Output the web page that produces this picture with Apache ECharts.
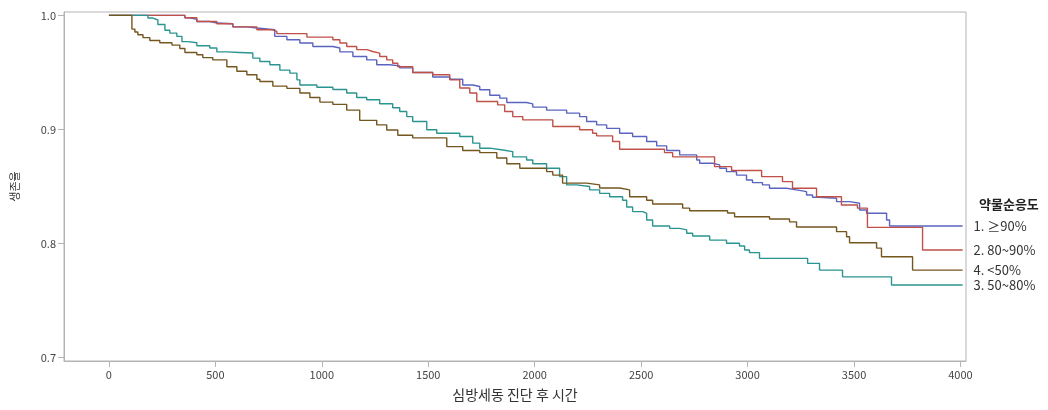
<!DOCTYPE html>
<html>
<head>
<meta charset="utf-8">
<script src="https://cdn.jsdelivr.net/npm/echarts@6/dist/echarts.min.js"></script>
<style>html,body{margin:0;padding:0;background:#fff}#c{width:1048px;height:410px}</style>
</head>
<body>
<div id="c"></div>
<script>
const seriesNames = ['1. ≥90%', '2. 80~90%', '3. 50~80%', '4. <50%'];
const xTicks = [0, 500, 1000, 1500, 2000, 2500, 3000, 3500, 4000];
const yTicks = [0.7, 0.8, 0.9, 1.0];
const legendTitle = '약물순응도';
const xName = '심방세동 진단 후 시간';
const yName = '생존율';

const timeGe90 = [0,357,380,413,474,507,582,648,695,779,836,897,958,1052,1085,1146,1211,1258,1319,1366,1427,1521,1601,1662,1709,1742,1789,1836,1869,1962,1991,2056,2150,2211,2244,2291,2338,2399,2460,2526,2573,2620,2681,2761,2775,2836,2869,2901,2948,2995,3023,3070,3103,3183,3230,3277,3305,3338,3418,3479,3526,3559,3653,3667,4010];
const survGe90 = [1.0,0.998,0.9965,0.9947,0.9933,0.9927,0.990,0.989,0.9874,0.9816,0.9787,0.9758,0.9728,0.9714,0.968,0.964,0.961,0.9567,0.9558,0.954,0.950,0.946,0.944,0.939,0.9377,0.9348,0.930,0.9275,0.9236,0.9225,0.9196,0.917,0.9143,0.9113,0.907,0.904,0.901,0.8967,0.8938,0.8894,0.8856,0.8815,0.8777,0.8733,0.8704,0.8689,0.866,0.863,0.860,0.8557,0.8534,0.8514,0.8485,0.847,0.8455,0.8426,0.8406,0.8397,0.8367,0.8353,0.8294,0.8265,0.8206,0.8154,0.8154];

const time8090 = [0,357,413,507,582,695,770,789,930,1052,1085,1117,1164,1211,1239,1272,1305,1333,1357,1427,1521,1601,1648,1695,1728,1826,1859,1897,1944,2085,2211,2272,2291,2366,2399,2610,2648,2845,2925,3066,3164,3211,3324,3441,3516,3563,3822,4010];
const surv8090 = [1.0,0.998,0.9947,0.9927,0.990,0.9874,0.986,0.984,0.981,0.9787,0.9758,0.9728,0.970,0.9684,0.967,0.964,0.961,0.958,0.955,0.950,0.948,0.9435,0.9363,0.932,0.9245,0.9216,0.9157,0.9113,0.9084,0.9026,0.8997,0.8967,0.8944,0.8894,0.8827,0.8797,0.876,0.8674,0.864,0.8587,0.8543,0.8485,0.841,0.8338,0.831,0.8142,0.7943,0.7943];

const time5080 = [0,183,207,230,263,286,319,343,371,413,474,507,554,615,676,709,756,803,850,883,897,977,1052,1117,1164,1211,1272,1333,1366,1399,1427,1493,1540,1648,1709,1742,1789,1850,1897,1962,1991,2056,2117,2150,2197,2258,2305,2352,2413,2432,2460,2507,2526,2554,2634,2681,2714,2742,2822,2901,2962,2986,3009,3056,3282,3338,3446,3676,4010];
const surv5080 = [1.0,0.9977,0.996,0.992,0.987,0.9845,0.9816,0.977,0.976,0.9734,0.9714,0.968,0.9675,0.967,0.9626,0.9596,0.9567,0.952,0.9494,0.9435,0.939,0.937,0.935,0.932,0.928,0.926,0.9225,0.919,0.9157,0.9113,0.907,0.8997,0.8967,0.8938,0.888,0.8836,0.882,0.8806,0.876,0.8733,0.870,0.866,0.8587,0.8514,0.850,0.847,0.844,0.841,0.838,0.832,0.828,0.8265,0.8206,0.8154,0.8133,0.812,0.809,0.8066,0.803,0.8002,0.7978,0.7943,0.792,0.787,0.7826,0.7767,0.7708,0.7636,0.7636];

const timeLt50 = [0,108,122,136,160,192,239,296,333,357,413,441,488,554,601,648,695,709,770,836,897,944,991,1052,1117,1178,1258,1305,1357,1427,1587,1662,1742,1822,1869,1930,2056,2085,2131,2244,2305,2399,2446,2526,2554,2695,2728,2906,2939,3103,3197,3230,3418,3465,3479,3606,3629,3775,4010];
const survLt50 = [1.0,0.988,0.9855,0.983,0.9805,0.978,0.976,0.974,0.971,0.9675,0.9655,0.963,0.961,0.955,0.951,0.948,0.944,0.942,0.938,0.936,0.932,0.928,0.924,0.922,0.917,0.908,0.904,0.8995,0.895,0.8926,0.885,0.8815,0.8797,0.875,0.870,0.866,0.863,0.860,0.853,0.8514,0.8487,0.847,0.841,0.838,0.8347,0.831,0.8288,0.8267,0.8235,0.8215,0.819,0.8145,0.8104,0.806,0.8007,0.796,0.7884,0.7767,0.7767];

const colors = ['#5a64c0', '#c05048', '#2a9590', '#74561f'];
const times = [timeGe90, time8090, time5080, timeLt50];
const survs = [survGe90, surv8090, surv5080, survLt50];

const FONT = "'Noto Sans CJK KR', 'Noto Sans', sans-serif";
const axisGray = '#b4b4b4';

const series = seriesNames.map((name, i) => ({
  name: name,
  type: 'line',
  step: 'end',
  showSymbol: false,
  symbol: 'none',
  data: times[i].map((t, j) => [t, survs[i][j]]),
  lineStyle: { color: colors[i], width: 1.4 },
  itemStyle: { color: colors[i] },
  emphasis: { disabled: true },
  endLabel: {
    show: true,
    formatter: '{a}',
    distance: 11,
    color: '#333',
    fontSize: 13,
    fontFamily: FONT
  },
  z: 2
}));

const chart = echarts.init(document.getElementById('c'));
chart.setOption({
  animation: false,
  backgroundColor: '#fff',
  title: {
    text: legendTitle,
    left: 974,
    top: 193,
    textStyle: { fontSize: 13, fontWeight: 'bold', color: '#222', fontFamily: FONT }
  },
  grid: {
    left: 64, right: 82, top: 12, bottom: 49,
    show: true, borderColor: axisGray, borderWidth: 1, backgroundColor: '#fff'
  },
  xAxis: {
    type: 'value',
    min: -211,
    max: 4026,
    name: xName,
    nameLocation: 'middle',
    nameGap: 27,
    nameTextStyle: { fontSize: 14, color: '#333', fontFamily: FONT },
    axisLine: { show: true, onZero: false, lineStyle: { color: axisGray } },
    axisTick: { show: true, length: 6, customValues: xTicks, lineStyle: { color: axisGray } },
    axisLabel: { customValues: xTicks, fontSize: 11, color: '#444', margin: 8, fontFamily: FONT,
      formatter: v => String(Math.round(v)) },
    splitLine: { show: false }
  },
  yAxis: {
    type: 'value',
    min: 0.697,
    max: 1.003,
    name: yName,
    nameLocation: 'middle',
    nameGap: 44,
    nameRotate: 90,
    nameTextStyle: { fontSize: 11, color: '#333', fontFamily: FONT },
    axisLine: { show: true, onZero: false, lineStyle: { color: axisGray } },
    axisTick: { show: true, length: 6, customValues: yTicks, lineStyle: { color: axisGray } },
    axisLabel: { customValues: yTicks, fontSize: 11, color: '#444', margin: 8, fontFamily: FONT,
      formatter: v => v.toFixed(1) },
    splitLine: { show: false }
  },
  series: series
});
</script>
</body>
</html>
